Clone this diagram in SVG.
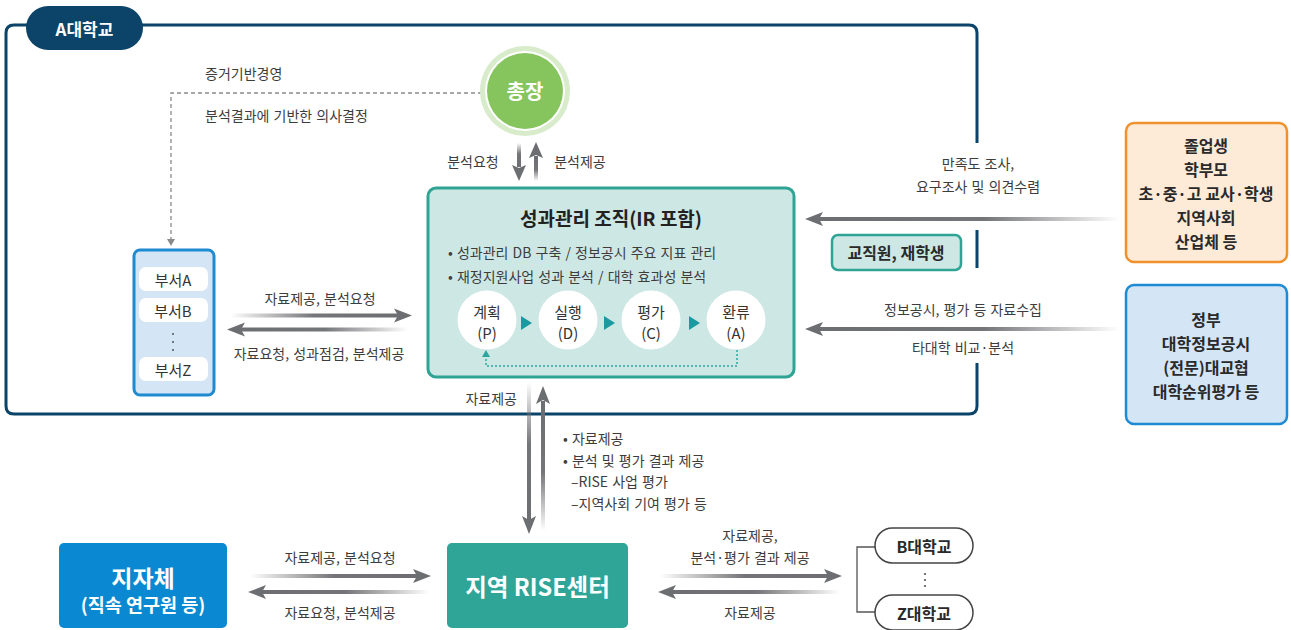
<svg xmlns="http://www.w3.org/2000/svg" width="1291" height="630" viewBox="0 0 1291 630">
<defs>
<linearGradient id="gR" x1="0" y1="0" x2="1" y2="0"><stop offset="0" stop-color="#6d6e71" stop-opacity="0"/><stop offset="0.5" stop-color="#6d6e71" stop-opacity="0.95"/><stop offset="1" stop-color="#6d6e71"/></linearGradient>
<linearGradient id="gL" x1="1" y1="0" x2="0" y2="0"><stop offset="0" stop-color="#6d6e71" stop-opacity="0"/><stop offset="0.5" stop-color="#6d6e71" stop-opacity="0.95"/><stop offset="1" stop-color="#6d6e71"/></linearGradient>
<linearGradient id="gLL" x1="1" y1="0" x2="0" y2="0"><stop offset="0" stop-color="#6d6e71" stop-opacity="0"/><stop offset="0.45" stop-color="#6d6e71" stop-opacity="0.95"/><stop offset="1" stop-color="#6d6e71"/></linearGradient>
<linearGradient id="gD" x1="0" y1="0" x2="0" y2="1"><stop offset="0" stop-color="#6d6e71" stop-opacity="0"/><stop offset="0.45" stop-color="#6d6e71" stop-opacity="0.95"/><stop offset="1" stop-color="#6d6e71"/></linearGradient>
<linearGradient id="gU" x1="0" y1="1" x2="0" y2="0"><stop offset="0" stop-color="#6d6e71" stop-opacity="0"/><stop offset="0.45" stop-color="#6d6e71" stop-opacity="0.95"/><stop offset="1" stop-color="#6d6e71"/></linearGradient>
<style>
text{font-family:"Noto Sans CJK KR","Noto Sans",sans-serif;}
.lbl{font-size:14px;fill:#3d3d3d;word-spacing:1px;}
.mid{text-anchor:middle;dominant-baseline:central;}
.head{fill:#6d6e71;}
.frame{fill:none;stroke:#0b4468;stroke-width:3;}
.wb{fill:#fff;font-weight:bold;}
.bx{font-size:16px;font-weight:bold;fill:#2a2a2a;}
.pd{fill:#fff;}
.pdt{font-size:15px;fill:#333;}
.tri{fill:#1a9aa0;}
.dept{fill:#fff;}
.dt{font-size:15px;fill:#333;}
.pill{fill:#fff;stroke:#444;stroke-width:1.5;}
</style>
</defs>

<g id="frameA">
<path class="frame" d="M 60 25 H 969 Q 977 25 977 33 V 143 M 977 230 V 268 M 977 363 V 406 Q 977 414 969 414 H 14 Q 6 414 6 406 V 33 Q 6 25 14 25 H 60"/>
<rect x="26" y="6" width="117" height="44" rx="22" fill="#0b4468"/>
<text x="84.5" y="28" class="mid wb" font-size="17">A대학교</text>
</g>

<g id="connectors">
<path d="M 482 93 H 171 V 240" fill="none" stroke="#8a8a8a" stroke-width="1.3" stroke-dasharray="4 3"/>
<polygon points="167,239 175,239 171,246" fill="#8a8a8a"/>
<rect x="517" y="143" width="4" height="24" fill="url(#gD)"/>
<polygon class="head" points="519,181 512,165 519,168 526,165"/>
<rect x="534" y="156" width="4" height="25" fill="url(#gU)"/>
<polygon class="head" points="536,142 529,158 536,155 543,158"/>
<rect x="230" y="313.5" width="168" height="4" fill="url(#gR)"/>
<polygon class="head" points="412,315.5 394,308.5 398,315.5 394,322.5"/>
<rect x="241" y="327.5" width="167" height="4" fill="url(#gL)"/>
<polygon class="head" points="227,329.5 245,322.5 241,329.5 245,336.5"/>
<rect x="819" y="217" width="300" height="4" fill="url(#gLL)"/>
<polygon class="head" points="805,219 823,212 819,219 823,226"/>
<rect x="819" y="327" width="300" height="4" fill="url(#gLL)"/>
<polygon class="head" points="805,329 823,322 819,329 823,336"/>
<rect x="527" y="382" width="4" height="138" fill="url(#gD)"/>
<polygon class="head" points="529,534 522,516 529,520 536,516"/>
<rect x="541" y="401" width="4" height="130" fill="url(#gU)"/>
<polygon class="head" points="543,386 536,404 543,400 550,404"/>
<rect x="250" y="574" width="167" height="4" fill="url(#gR)"/>
<polygon class="head" points="431,576 413,569 417,576 413,583"/>
<rect x="262" y="590" width="167" height="4" fill="url(#gL)"/>
<polygon class="head" points="248,592 266,585 262,592 266,599"/>
<rect x="660" y="574" width="168" height="4" fill="url(#gR)"/>
<polygon class="head" points="842,576 824,569 828,576 824,583"/>
<rect x="672" y="590" width="168" height="4" fill="url(#gL)"/>
<polygon class="head" points="658,592 676,585 672,592 676,599"/>
<path d="M 875 547 H 857 V 612 H 875" fill="none" stroke="#555" stroke-width="1.3"/>
<circle cx="925" cy="574" r="1.1" fill="#555"/><circle cx="925" cy="580" r="1.1" fill="#555"/><circle cx="925" cy="586" r="1.1" fill="#555"/>
</g>

<g id="labels">
<text x="205" y="73" class="lbl" dominant-baseline="central">증거기반경영</text>
<text x="205" y="115" class="lbl" dominant-baseline="central">분석결과에 기반한 의사결정</text>
<text x="473" y="161" class="lbl mid">분석요청</text>
<text x="580" y="161" class="lbl mid">분석제공</text>
<text x="320" y="298" class="lbl mid">자료제공, 분석요청</text>
<text x="319" y="353" class="lbl mid">자료요청, 성과점검, 분석제공</text>
<text x="978" y="163" class="lbl mid">만족도 조사,</text>
<text x="978" y="186" class="lbl mid">요구조사 및 의견수렴</text>
<text x="963" y="309" class="lbl mid">정보공시, 평가 등 자료수집</text>
<text x="963" y="347" class="lbl mid">타대학 비교·분석</text>
<text x="517" y="398" class="lbl" text-anchor="end" dominant-baseline="central">자료제공</text>
<text x="563" y="438" class="lbl" dominant-baseline="central">• 자료제공</text>
<text x="563" y="460" class="lbl" dominant-baseline="central">• 분석 및 평가 결과 제공</text>
<text x="571" y="481" class="lbl" dominant-baseline="central">–RISE 사업 평가</text>
<text x="571" y="503" class="lbl" dominant-baseline="central">–지역사회 기여 평가 등</text>
<text x="340" y="557" class="lbl mid">자료제공, 분석요청</text>
<text x="340" y="612" class="lbl mid">자료요청, 분석제공</text>
<text x="750" y="535" class="lbl mid">자료제공,</text>
<text x="750" y="557" class="lbl mid">분석·평가 결과 제공</text>
<text x="750" y="612" class="lbl mid">자료제공</text>
</g>

<g id="president">
<circle cx="525" cy="91" r="45" fill="#d8ebcb"/>
<circle cx="525" cy="91" r="40" fill="#fff"/>
<circle cx="525" cy="91" r="38" fill="#86c55e"/>
<text x="525" y="90" class="mid wb" font-size="20">총장</text>
</g>

<g id="ir">
<rect x="428" y="188" width="366" height="189" rx="8" fill="#cde8e4" stroke="#2fa394" stroke-width="3"/>
<text x="611" y="217" class="mid" font-size="19" font-weight="bold" fill="#222">성과관리 조직(IR 포함)</text>
<text x="448" y="252" class="lbl" dominant-baseline="central">• 성과관리 DB 구축 / 정보공시 주요 지표 관리</text>
<text x="448" y="276" class="lbl" dominant-baseline="central">• 재정지원사업 성과 분석 / 대학 효과성 분석</text>
<g id="pdca">
<circle class="pd" cx="487" cy="320" r="29.5"/>
<text x="487" y="311" class="pdt mid">계획</text><text x="487" y="332" class="pdt mid">(P)</text>
<circle class="pd" cx="568" cy="320" r="29.5"/>
<text x="568" y="311" class="pdt mid">실행</text><text x="568" y="332" class="pdt mid">(D)</text>
<circle class="pd" cx="651" cy="320" r="29.5"/>
<text x="651" y="311" class="pdt mid">평가</text><text x="651" y="332" class="pdt mid">(C)</text>
<circle class="pd" cx="736" cy="320" r="29.5"/>
<text x="736" y="311" class="pdt mid">환류</text><text x="736" y="332" class="pdt mid">(A)</text>
<polygon class="tri" points="521,316 532,323 521,330"/>
<polygon class="tri" points="604,316 615,323 604,330"/>
<polygon class="tri" points="689,316 700,323 689,330"/>
<path d="M 737 350 V 366 H 486 V 356" fill="none" stroke="#2ba5a0" stroke-width="1.5" stroke-dasharray="2 2"/>
<polygon points="482,357 490,357 486,350" fill="#2ba5a0"/>
</g>
</g>

<g id="depts">
<rect x="134" y="250" width="80" height="145" rx="6" fill="#d4e5f5" stroke="#1e8ad2" stroke-width="3"/>
<rect class="dept" x="139" y="267" width="69" height="24" rx="7"/>
<text x="173" y="279" class="dt mid">부서A</text>
<rect class="dept" x="139" y="298" width="69" height="24" rx="7"/>
<text x="173" y="310" class="dt mid">부서B</text>
<circle cx="173" cy="334" r="1" fill="#555"/><circle cx="173" cy="342" r="1" fill="#555"/><circle cx="173" cy="350" r="1" fill="#555"/>
<rect class="dept" x="139" y="357" width="69" height="24" rx="7"/>
<text x="173" y="369" class="dt mid">부서Z</text>
</g>

<g id="staff">
<rect x="832" y="235" width="129" height="35" rx="6" fill="#cde8e4" stroke="#2fa394" stroke-width="2.5"/>
<text x="896" y="252" class="bx mid">교직원, 재학생</text>
</g>

<g id="stakeholders">
<rect x="1126" y="123" width="161" height="139" rx="8" fill="#fdebd8" stroke="#ef912c" stroke-width="2.5"/>
<text x="1206" y="145" class="bx mid">졸업생</text>
<text x="1206" y="169" class="bx mid">학부모</text>
<text x="1206" y="193" class="bx mid">초·중·고 교사·학생</text>
<text x="1206" y="217" class="bx mid">지역사회</text>
<text x="1206" y="241" class="bx mid">산업체 등</text>
</g>

<g id="government">
<rect x="1126" y="285" width="161" height="139" rx="8" fill="#d4e5f5" stroke="#1e8ad2" stroke-width="2.5"/>
<text x="1206" y="319" class="bx mid">정부</text>
<text x="1206" y="343" class="bx mid">대학정보공시</text>
<text x="1206" y="367" class="bx mid">(전문)대교협</text>
<text x="1206" y="391" class="bx mid">대학순위평가 등</text>
</g>

<g id="localgov">
<rect x="59" y="543" width="168" height="85" rx="5" fill="#0a89d2"/>
<text x="143" y="577" class="mid wb" font-size="23">지자체</text>
<text x="143" y="604" class="mid wb" font-size="18.5">(직속 연구원 등)</text>
</g>

<g id="rise">
<rect x="447" y="543" width="181" height="85" rx="5" fill="#2ea597"/>
<text x="537.5" y="586" class="mid wb" font-size="23.5">지역 RISE센터</text>
</g>

<g id="univB">
<rect class="pill" x="875" y="528" width="98" height="35" rx="17.5"/>
<text x="924" y="546" class="bx mid" font-size="17">B대학교</text>
</g>
<g id="univZ">
<rect class="pill" x="875" y="595" width="98" height="35" rx="17.5"/>
<text x="924" y="613" class="bx mid" font-size="17">Z대학교</text>
</g>
</svg>
